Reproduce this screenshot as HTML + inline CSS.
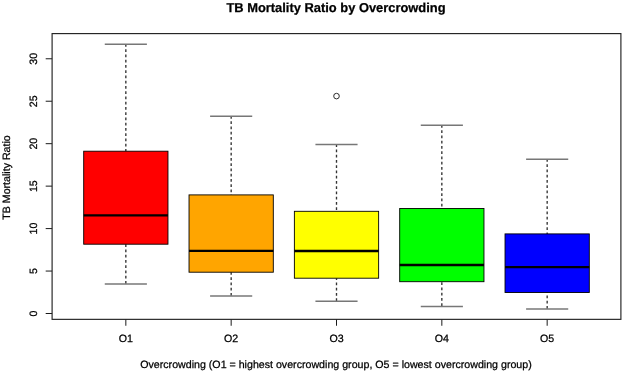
<!DOCTYPE html>
<html><head><meta charset="utf-8"><style>
html,body{margin:0;padding:0;background:#fff;width:624px;height:373px;overflow:hidden}
svg{display:block;will-change:transform}
text{font-family:"Liberation Sans",sans-serif;fill:#000;stroke:#000;stroke-width:0.25px;text-rendering:geometricPrecision}
</style></head><body>
<svg width="624" height="373" viewBox="0 0 624 373">
<rect width="624" height="373" fill="#fff"/>
<line x1="125.83" y1="43.90" x2="125.83" y2="151.20" stroke="#333" stroke-width="1.35" stroke-dasharray="2.8 2.45"/>
<line x1="125.83" y1="283.70" x2="125.83" y2="244.20" stroke="#333" stroke-width="1.35" stroke-dasharray="2.8 2.45"/>
<line x1="104.77" y1="44.20" x2="146.90" y2="44.20" stroke="#777" stroke-width="1.5"/>
<line x1="104.77" y1="284.00" x2="146.90" y2="284.00" stroke="#777" stroke-width="1.5"/>
<rect x="83.70" y="151.20" width="84.27" height="93.00" fill="#FF0000" stroke="#000" stroke-width="0.9"/>
<line x1="83.70" y1="215.40" x2="167.97" y2="215.40" stroke="#000" stroke-width="2.4"/>
<line x1="125.83" y1="319.35" x2="125.83" y2="325.75" stroke="#000" stroke-width="0.9"/>
<text x="125.83" y="342.1" text-anchor="middle" font-size="10.65">O1</text>
<line x1="231.17" y1="115.90" x2="231.17" y2="194.90" stroke="#333" stroke-width="1.35" stroke-dasharray="2.8 2.45"/>
<line x1="231.17" y1="295.80" x2="231.17" y2="272.20" stroke="#333" stroke-width="1.35" stroke-dasharray="2.8 2.45"/>
<line x1="210.10" y1="116.20" x2="252.23" y2="116.20" stroke="#777" stroke-width="1.5"/>
<line x1="210.10" y1="296.10" x2="252.23" y2="296.10" stroke="#777" stroke-width="1.5"/>
<rect x="189.03" y="194.90" width="84.27" height="77.30" fill="#FFA500" stroke="#000" stroke-width="0.9"/>
<line x1="189.03" y1="250.90" x2="273.30" y2="250.90" stroke="#000" stroke-width="2.4"/>
<line x1="231.17" y1="319.35" x2="231.17" y2="325.75" stroke="#000" stroke-width="0.9"/>
<text x="231.17" y="342.1" text-anchor="middle" font-size="10.65">O2</text>
<line x1="336.50" y1="144.20" x2="336.50" y2="211.30" stroke="#333" stroke-width="1.35" stroke-dasharray="2.8 2.45"/>
<line x1="336.50" y1="301.00" x2="336.50" y2="278.20" stroke="#333" stroke-width="1.35" stroke-dasharray="2.8 2.45"/>
<line x1="315.43" y1="144.50" x2="357.57" y2="144.50" stroke="#777" stroke-width="1.5"/>
<line x1="315.43" y1="301.30" x2="357.57" y2="301.30" stroke="#777" stroke-width="1.5"/>
<rect x="294.37" y="211.30" width="84.27" height="66.90" fill="#FFFF00" stroke="#000" stroke-width="0.9"/>
<line x1="294.37" y1="251.00" x2="378.63" y2="251.00" stroke="#000" stroke-width="2.4"/>
<line x1="336.50" y1="319.35" x2="336.50" y2="325.75" stroke="#000" stroke-width="0.9"/>
<text x="336.50" y="342.1" text-anchor="middle" font-size="10.65">O3</text>
<line x1="441.83" y1="124.90" x2="441.83" y2="208.50" stroke="#333" stroke-width="1.35" stroke-dasharray="2.8 2.45"/>
<line x1="441.83" y1="306.10" x2="441.83" y2="281.70" stroke="#333" stroke-width="1.35" stroke-dasharray="2.8 2.45"/>
<line x1="420.77" y1="125.20" x2="462.90" y2="125.20" stroke="#777" stroke-width="1.5"/>
<line x1="420.77" y1="306.40" x2="462.90" y2="306.40" stroke="#777" stroke-width="1.5"/>
<rect x="399.70" y="208.50" width="84.27" height="73.20" fill="#00FF00" stroke="#000" stroke-width="0.9"/>
<line x1="399.70" y1="265.00" x2="483.97" y2="265.00" stroke="#000" stroke-width="2.4"/>
<line x1="441.83" y1="319.35" x2="441.83" y2="325.75" stroke="#000" stroke-width="0.9"/>
<text x="441.83" y="342.1" text-anchor="middle" font-size="10.65">O4</text>
<line x1="547.17" y1="158.90" x2="547.17" y2="233.90" stroke="#333" stroke-width="1.35" stroke-dasharray="2.8 2.45"/>
<line x1="547.17" y1="308.80" x2="547.17" y2="292.50" stroke="#333" stroke-width="1.35" stroke-dasharray="2.8 2.45"/>
<line x1="526.10" y1="159.20" x2="568.23" y2="159.20" stroke="#777" stroke-width="1.5"/>
<line x1="526.10" y1="309.10" x2="568.23" y2="309.10" stroke="#777" stroke-width="1.5"/>
<rect x="505.03" y="233.90" width="84.27" height="58.60" fill="#0000FF" stroke="#000" stroke-width="0.9"/>
<line x1="505.03" y1="267.10" x2="589.30" y2="267.10" stroke="#000" stroke-width="2.4"/>
<line x1="547.17" y1="319.35" x2="547.17" y2="325.75" stroke="#000" stroke-width="0.9"/>
<text x="547.17" y="342.1" text-anchor="middle" font-size="10.65">O5</text>
<circle cx="336.50" cy="96.1" r="2.8" fill="none" stroke="#222" stroke-width="0.95"/>
<line x1="45.70" y1="313.50" x2="52.10" y2="313.50" stroke="#000" stroke-width="0.9"/>
<text transform="translate(37.2 313.50) rotate(-90)" text-anchor="middle" font-size="10.65">0</text>
<line x1="45.70" y1="271.05" x2="52.10" y2="271.05" stroke="#000" stroke-width="0.9"/>
<text transform="translate(37.2 271.05) rotate(-90)" text-anchor="middle" font-size="10.65">5</text>
<line x1="45.70" y1="228.59" x2="52.10" y2="228.59" stroke="#000" stroke-width="0.9"/>
<text transform="translate(37.2 228.59) rotate(-90)" text-anchor="middle" font-size="10.65">10</text>
<line x1="45.70" y1="186.13" x2="52.10" y2="186.13" stroke="#000" stroke-width="0.9"/>
<text transform="translate(37.2 186.13) rotate(-90)" text-anchor="middle" font-size="10.65">15</text>
<line x1="45.70" y1="143.68" x2="52.10" y2="143.68" stroke="#000" stroke-width="0.9"/>
<text transform="translate(37.2 143.68) rotate(-90)" text-anchor="middle" font-size="10.65">20</text>
<line x1="45.70" y1="101.22" x2="52.10" y2="101.22" stroke="#000" stroke-width="0.9"/>
<text transform="translate(37.2 101.22) rotate(-90)" text-anchor="middle" font-size="10.65">25</text>
<line x1="45.70" y1="58.77" x2="52.10" y2="58.77" stroke="#000" stroke-width="0.9"/>
<text transform="translate(37.2 58.77) rotate(-90)" text-anchor="middle" font-size="10.65">30</text>
<rect x="52.10" y="33.60" width="568.80" height="285.75" fill="none" stroke="#222" stroke-width="1.15"/>
<text x="336.0" y="12.2" text-anchor="middle" font-size="12.9" font-weight="bold">TB Mortality Ratio by Overcrowding</text>
<text x="336.0" y="368.0" text-anchor="middle" font-size="10.65">Overcrowding (O1 = highest overcrowding group, O5 = lowest overcrowding group)</text>
<text transform="translate(10.3 177.5) rotate(-90)" text-anchor="middle" font-size="10.65">TB Mortality Ratio</text>
</svg>
</body></html>
